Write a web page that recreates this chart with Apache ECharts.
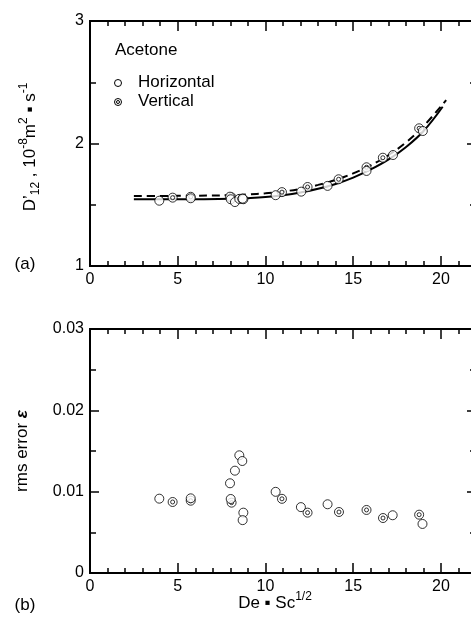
<!DOCTYPE html>
<html>
<head>
<meta charset="utf-8">
<script src="https://cdn.jsdelivr.net/npm/echarts@6/dist/echarts.min.js"></script>
<style>html,body{margin:0;padding:0;background:#fff}#c{width:471px;height:623px}</style>
</head>
<body>
<div id="c"></div>
<script>
// ---- Data ----
// Panel (a): D'12 (10^-8 m^2 s^-1) vs De*Sc^1/2
var horizX = [3.95, 5.74, 7.98, 8.02, 8.26, 8.51, 8.68, 8.74, 8.70, 10.58, 12.04, 13.54, 15.76, 17.27, 18.97];
var horizD = [1.533, 1.553, 1.566, 1.545, 1.522, 1.548, 1.548, 1.545, 1.550, 1.578, 1.607, 1.654, 1.776, 1.906, 2.102];
var vertX = [4.71, 5.74, 8.07, 10.94, 12.40, 14.17, 15.76, 16.69, 18.76];
var vertD = [1.558, 1.565, 1.560, 1.603, 1.645, 1.708, 1.806, 1.884, 2.124];
// model curves (solid and dashed)
var solidX = [2.5, 4, 6, 8, 9, 10, 11, 12, 13, 14, 15, 16, 17, 18, 19, 20.1];
var solidD = [1.545, 1.544, 1.545, 1.548, 1.554, 1.563, 1.578, 1.600, 1.630, 1.670, 1.722, 1.788, 1.868, 1.970, 2.100, 2.300];
var dashX = [2.5, 4, 6, 8, 9, 10, 11, 12, 13, 14, 15, 16, 17, 18, 19, 20.3];
var dashD = [1.572, 1.572, 1.574, 1.578, 1.584, 1.593, 1.608, 1.630, 1.662, 1.703, 1.756, 1.822, 1.904, 2.008, 2.140, 2.355];
// Panel (b): rms error
var rmsHorizX = [3.95, 5.74, 7.98, 8.02, 8.26, 8.51, 8.68, 8.74, 8.70, 10.58, 12.02, 13.54, 17.25, 18.95];
var rmsHorizE = [0.00914, 0.00918, 0.01103, 0.00910, 0.01258, 0.01447, 0.01377, 0.00742, 0.00650, 0.00998, 0.00810, 0.00845, 0.00710, 0.00603];
var rmsVertX = [4.71, 5.74, 8.07, 10.94, 12.40, 14.19, 15.76, 16.70, 18.76];
var rmsVertE = [0.00873, 0.00889, 0.00865, 0.00912, 0.00742, 0.00750, 0.00775, 0.00676, 0.00717];
// tick settings
var xMin = 0, xMax = 22, xMajorStep = 5, xMinorStep = 1;
var aMin = 1, aMax = 3, aStep = 1;
var bMin = 0, bMax = 0.03, bStep = 0.01;

function zip(a, b) { return a.map(function (v, i) { return [v, b[i]]; }); }

var FF = 'Liberation Sans, Arial, sans-serif';
var BLACK = '#000';
var TW = 1.5;

function xAxisCfg(grid, pos, major, labels) {
  return {
    type: 'value', gridIndex: grid, position: pos, min: xMin, max: xMax,
    interval: major ? xMajorStep : xMinorStep,
    axisLine: { show: true, onZero: false, lineStyle: { color: BLACK, width: 2 } },
    axisTick: { show: true, inside: true, length: major ? 10 : 5, lineStyle: { color: BLACK, width: TW } },
    axisLabel: { show: labels, showMaxLabel: false, color: BLACK, fontSize: 16, fontFamily: FF, margin: 6 },
    splitLine: { show: false }
  };
}
function yAxisCfg(grid, pos, min, max, step, labels, fmt) {
  return {
    type: 'value', gridIndex: grid, position: pos, min: min, max: max, interval: step,
    axisLine: { show: true, onZero: false, lineStyle: { color: BLACK, width: 2 } },
    axisTick: { show: true, inside: true, length: 9, lineStyle: { color: BLACK, width: TW } },
    minorTick: { show: true, splitNumber: 2, length: 6, lineStyle: { color: BLACK, width: TW } },
    axisLabel: { show: labels, color: BLACK, fontSize: 16, fontFamily: FF, margin: 6, formatter: fmt },
    splitLine: { show: false }
  };
}

var openStyle = { color: '#fff', borderColor: BLACK, borderWidth: 1 };
function scatter(xi, yi, data, size, z) {
  return { type: 'scatter', xAxisIndex: xi, yAxisIndex: yi, data: data, symbol: 'circle', symbolSize: size,
    itemStyle: openStyle, z: z, emphasis: { disabled: true }, silent: true };
}

var chart = echarts.init(document.getElementById('c'), null, { renderer: 'canvas' });
chart.setOption({
  animation: false,
  textStyle: { fontFamily: FF },
  grid: [
    { left: 90, top: 21, width: 386, height: 245, outerBoundsMode: 'none', containLabel: false },
    { left: 90, top: 329, width: 386, height: 244, outerBoundsMode: 'none', containLabel: false }
  ],
  xAxis: [
    xAxisCfg(0, 'bottom', true, true), xAxisCfg(0, 'bottom', false, false),
    xAxisCfg(0, 'top', true, false), xAxisCfg(0, 'top', false, false),
    xAxisCfg(1, 'bottom', true, true), xAxisCfg(1, 'bottom', false, false),
    xAxisCfg(1, 'top', true, false), xAxisCfg(1, 'top', false, false)
  ],
  yAxis: [
    yAxisCfg(0, 'left', aMin, aMax, aStep, true, function (v) { return String(Math.round(v)); }),
    yAxisCfg(0, 'right', aMin, aMax, aStep, false),
    yAxisCfg(1, 'left', bMin, bMax, bStep, true, function (v) { return v === 0 ? '0' : v.toFixed(2); }),
    yAxisCfg(1, 'right', bMin, bMax, bStep, false)
  ],
  series: [
    { type: 'line', xAxisIndex: 0, yAxisIndex: 0, data: zip(solidX, solidD), smooth: 0.4, symbol: 'none',
      lineStyle: { color: BLACK, width: 2 }, z: 2, silent: true },
    { type: 'line', xAxisIndex: 0, yAxisIndex: 0, data: zip(dashX, dashD), smooth: 0.4, symbol: 'none',
      lineStyle: { color: BLACK, width: 2, type: [8, 5] }, z: 2, silent: true },
    scatter(0, 0, zip(vertX, vertD), 9, 3),
    scatter(0, 0, zip(vertX, vertD), 4, 4),
    scatter(0, 0, zip(horizX, horizD), 9, 5),
    scatter(4, 2, zip(rmsVertX, rmsVertE), 9, 3),
    scatter(4, 2, zip(rmsVertX, rmsVertE), 4, 4),
    scatter(4, 2, zip(rmsHorizX, rmsHorizE), 9, 5)
  ],
  graphic: [
    { type: 'text', left: 115, top: 42, style: { text: 'Acetone', fontSize: 17, fontFamily: FF, fill: BLACK } },
    { type: 'circle', shape: { cx: 118, cy: 83, r: 3.5 }, style: { fill: '#fff', stroke: BLACK, lineWidth: 1 } },
    { type: 'text', left: 138, top: 74, style: { text: 'Horizontal', fontSize: 17, fontFamily: FF, fill: BLACK } },
    { type: 'circle', shape: { cx: 118, cy: 102, r: 3.5 }, style: { fill: '#fff', stroke: BLACK, lineWidth: 1 } },
    { type: 'circle', shape: { cx: 118, cy: 102, r: 1.5 }, style: { fill: '#fff', stroke: BLACK, lineWidth: 1 } },
    { type: 'text', left: 138, top: 93, style: { text: 'Vertical', fontSize: 17, fontFamily: FF, fill: BLACK } },
    { type: 'text', x: 30, y: 147, rotation: Math.PI / 2,
      style: { text: '{n|D’}{sub|12}{n| , 10}{sup|-8}{n|m}{sup|2}{n| ▪ s}{sup|-1}', align: 'center', verticalAlign: 'middle',
        rich: {
          n: { fontSize: 17, fontFamily: FF, fill: BLACK, lineHeight: 24 },
          sub: { fontSize: 12, fontFamily: FF, fill: BLACK, verticalAlign: 'bottom', lineHeight: 14 },
          sup: { fontSize: 12, fontFamily: FF, fill: BLACK, verticalAlign: 'top', lineHeight: 14 }
        } } },
    { type: 'text', x: 22, y: 451, rotation: Math.PI / 2,
      style: { text: '{n|rms error }{e|ε}', align: 'center', verticalAlign: 'middle',
        rich: {
          n: { fontSize: 17, fontFamily: FF, fill: BLACK },
          e: { fontSize: 17, fontFamily: FF, fill: BLACK, fontStyle: 'italic', fontWeight: 'bold' }
        } } },
    { type: 'text', x: 275, y: 603,
      style: { text: '{n|De ▪ Sc}{sup|1/2}', align: 'center', verticalAlign: 'middle',
        rich: {
          n: { fontSize: 17, fontFamily: FF, fill: BLACK, lineHeight: 24 },
          sup: { fontSize: 12, fontFamily: FF, fill: BLACK, verticalAlign: 'top', lineHeight: 14 }
        } } },
    { type: 'text', x: 25, y: 264, style: { text: '(a)', fontSize: 17, fontFamily: FF, fill: BLACK, align: 'center', verticalAlign: 'middle' } },
    { type: 'text', x: 25, y: 605, style: { text: '(b)', fontSize: 17, fontFamily: FF, fill: BLACK, align: 'center', verticalAlign: 'middle' } }
  ]
});
</script>
</body>
</html>
